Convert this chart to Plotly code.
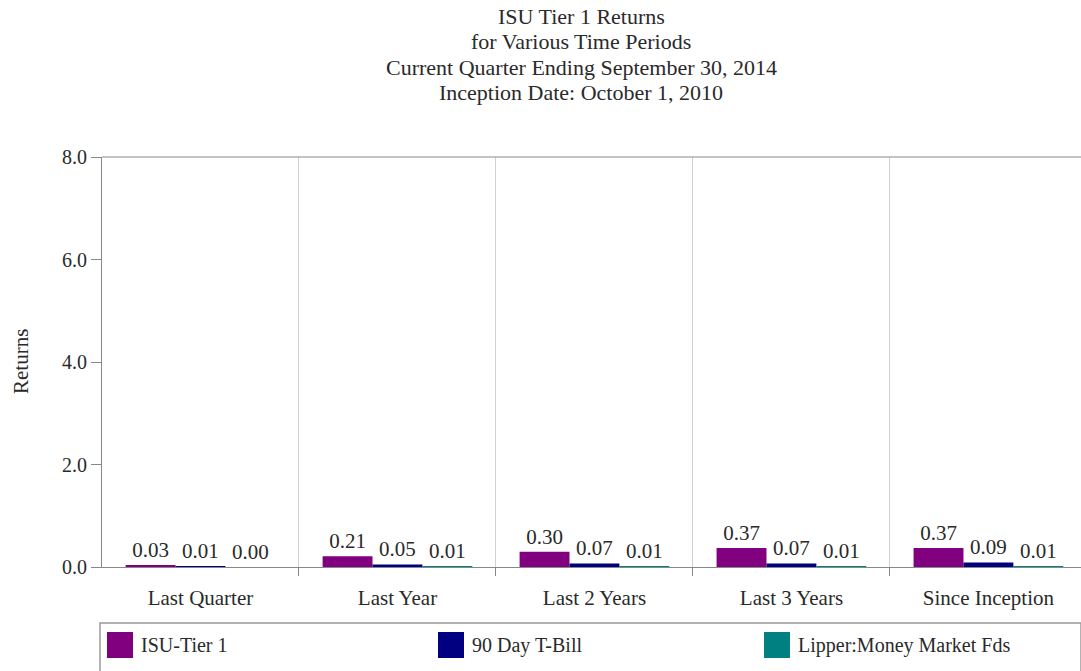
import plotly.graph_objects as go

categories = ["Last Quarter", "Last Year", "Last 2 Years", "Last 3 Years", "Since Inception"]
series_names = ["ISU-Tier 1", "90 Day T-Bill", "Lipper:Money Market Fds"]
isu_tier1 = [0.03, 0.21, 0.30, 0.37, 0.37]
tbill_90 = [0.01, 0.05, 0.07, 0.07, 0.09]
lipper_mm = [0.00, 0.01, 0.01, 0.01, 0.01]
colors = ["#800080", "#000080", "#008080"]
y_ticks = [0, 2, 4, 6, 8]
title_lines = ["ISU Tier 1 Returns", "for Various Time Periods",
               "Current Quarter Ending September 30, 2014", "Inception Date: October 1, 2010"]

FONT = "Liberation Serif"
TXT = "#2a2a2a"
FS = 21

W, H = 1081, 671
L, R_px, T, B_px = 102, 1081, 157, 567

def px_x(p):
    return (p - L) / (R_px - L)

def px_y(p):
    return (B_px - p) / (B_px - T)

xs = list(range(len(categories)))
fig = go.Figure()
for name, vals, col in zip(series_names, [isu_tier1, tbill_90, lipper_mm], colors):
    fig.add_trace(go.Bar(
        x=xs, y=vals, name=name, marker=dict(color=col, line=dict(width=0)),
        text=[f"{v:.2f}" for v in vals], textposition="outside",
        constraintext="none", cliponaxis=False,
        textfont=dict(family=FONT, size=FS, color=TXT), showlegend=False,
    ))

annotations = []
for i, line in enumerate(title_lines):
    annotations.append(dict(text=line, x=px_x(581), y=px_y(17 + 25 * i), xref="paper", yref="paper",
                            showarrow=False, xanchor="center", yanchor="middle",
                            font=dict(family=FONT, size=22, color=TXT)))
annotations.append(dict(text="Returns", x=px_x(21), y=px_y(362), xref="paper", yref="paper",
                        showarrow=False, textangle=-90, xanchor="center", yanchor="middle",
                        font=dict(family=FONT, size=FS, color=TXT)))

shapes = [
    dict(type="rect", xref="paper", yref="paper", x0=px_x(100), x1=px_x(1081), y0=px_y(672), y1=px_y(623),
         line=dict(color="#999999", width=1.5), fillcolor="rgba(0,0,0,0)"),
    dict(type="line", xref="paper", yref="paper", x0=0, x1=1, y0=1, y1=1,
         line=dict(color="#888888", width=1)),
]
legend_x = [107, 438, 764]
for name, col, lx in zip(series_names, colors, legend_x):
    shapes.append(dict(type="rect", xref="paper", yref="paper", x0=px_x(lx), x1=px_x(lx + 26),
                       y0=px_y(658), y1=px_y(632), fillcolor=col, line=dict(color=col, width=0)))
    annotations.append(dict(text=name, x=px_x(lx + 32), y=px_y(645), xref="paper", yref="paper",
                            showarrow=False, xanchor="left", yanchor="middle",
                            font=dict(family=FONT, size=20, color=TXT)))

fig.update_layout(
    width=W, height=H, barmode="group", bargap=0.24, bargroupgap=0,
    margin=dict(l=L, r=W - R_px, t=T, b=H - B_px, pad=0),
    plot_bgcolor="white", paper_bgcolor="white",
    shapes=shapes, annotations=annotations,
    font=dict(family=FONT, size=FS, color=TXT),
)
fig.update_xaxes(
    range=[-0.5, 4.47], tickvals=xs, ticktext=categories, ticks="", showgrid=False,
    showline=True, linecolor="#888888", linewidth=1, zeroline=False,
    tickfont=dict(family=FONT, size=21, color=TXT), ticklabelstandoff=12,
    minor=dict(tickvals=[0.5, 1.5, 2.5, 3.5], ticks="outside", ticklen=8, tickcolor="#888888",
               showgrid=True, gridcolor="#d0d0d0", gridwidth=1),
)
fig.update_yaxes(
    range=[0, 8], tickvals=y_ticks, ticktext=[f"{v:.1f}" for v in y_ticks], ticks="outside",
    ticklen=10, tickcolor="#888888", showgrid=False, zeroline=False, showline=True,
    linecolor="#888888", linewidth=1, tickfont=dict(family=FONT, size=20, color=TXT),
)

fig.write_html("out.html", config={"displayModeBar": False},
               post_script="document.body.style.margin='0';document.body.style.padding='0';")
